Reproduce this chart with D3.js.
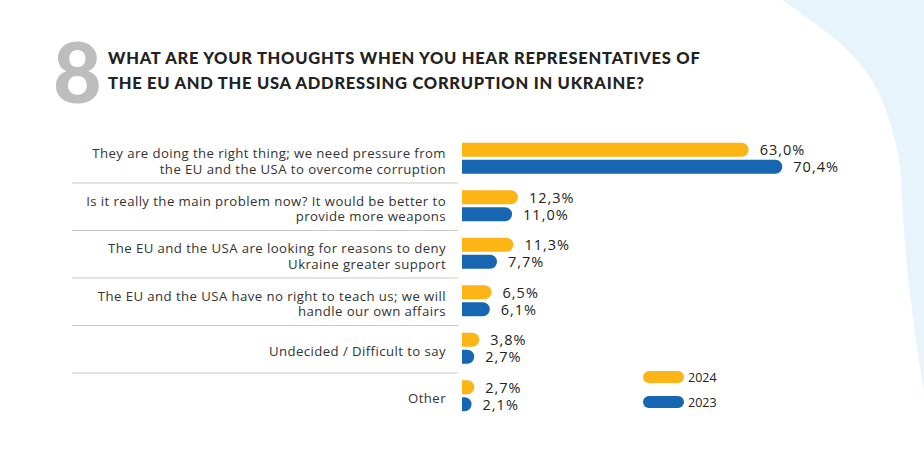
<!DOCTYPE html>
<html>
<head>
<meta charset="utf-8">
<script src="https://cdn.jsdelivr.net/npm/d3@7"></script>
<style>
  html, body { margin: 0; padding: 0; background: #fff; }
  svg { display: block; }
</style>
</head>
<body>
<svg id="chart" width="924" height="455"></svg>
<script>
// ---------- DATA ----------
const categories = [
  "They are doing the right thing; we need pressure from|the EU and the USA to overcome corruption",
  "Is it really the main problem now? It would be better to|provide more weapons",
  "The EU and the USA are looking for reasons to deny|Ukraine greater support",
  "The EU and the USA have no right to teach us; we will|handle our own affairs",
  "Undecided / Difficult to say",
  "Other"
];
const series = ["2024", "2023"];
const values2024 = [63.0, 12.3, 11.3, 6.5, 3.8, 2.7];
const values2023 = [70.4, 11.0, 7.7, 6.1, 2.7, 2.1];
const titleLines = [
  "WHAT ARE YOUR THOUGHTS WHEN YOU HEAR REPRESENTATIVES OF",
  "THE EU AND THE USA ADDRESSING CORRUPTION IN UKRAINE?"
];
const questionNumber = "8";
const colors = { "2024": "#FDB515", "2023": "#1766B2" };

// ---------- SETUP ----------
const svg = d3.select("#chart");
const FONT = "'Open Sans', 'Noto Sans', sans-serif";

// background decoration
const bgPts = [[782,0],[810,20],[840,43],[867,73],[882,100],[893,133],[900,167],[903,217],[907,267],[913,317],[920,367],[924,390]];
const bgLine = d3.line().curve(d3.curveCatmullRom);
svg.append("path")
  .attr("d", bgLine(bgPts) + "L924,0Z")
  .attr("fill", "#E8F4FC");

// title
svg.append("text")
  .attr("x", 53).attr("y", 103)
  .attr("font-family", "Lato, 'Open Sans', sans-serif")
  .attr("font-weight", 900)
  .attr("font-size", 84)
  .attr("fill", "#BDBDBD")
  .text(questionNumber);

svg.append("g").selectAll("text").data(titleLines).join("text")
  .attr("x", 108)
  .attr("y", (d, i) => 58 + i * 25)
  .attr("dominant-baseline", "central")
  .attr("font-family", "Lato, 'Open Sans', sans-serif")
  .attr("font-weight", 900)
  .attr("font-size", 16.5)
  .attr("letter-spacing", 0.75)
  .attr("fill", "#222")
  .text(d => d);

// scales
const y = d3.scaleBand().domain(categories).range([135.5, 420.5]);
const ySub = d3.scaleBand().domain(series).range([0, 31]).paddingInner(3 / 17);
const x = d3.scaleLinear().domain([0, 70.4]).range([462, 462 + 70.4 * 4.55]);

const rows = categories.map((c, i) => ({
  cat: c, i,
  vals: [{ s: "2024", v: values2024[i] }, { s: "2023", v: values2023[i] }]
}));

// separators
svg.append("g").selectAll("line").data(categories.slice(0, -1)).join("line")
  .attr("x1", 72).attr("x2", 458)
  .attr("y1", d => y(d) + y.step()).attr("y2", d => y(d) + y.step())
  .attr("stroke", "#C8C8C8").attr("stroke-width", 1);

// category labels
const labG = svg.append("g");
rows.forEach(r => {
  const lines = r.cat.split("|");
  const cy = y(r.cat) + y.bandwidth() / 2 + 1.5;
  const lh = 15.5;
  lines.forEach((ln, k) => {
    labG.append("text")
      .attr("x", 446)
      .attr("y", cy + (k - (lines.length - 1) / 2) * lh)
      .attr("text-anchor", "end")
      .attr("dominant-baseline", "central")
      .attr("font-family", FONT)
      .attr("font-size", 13.2)
      .attr("letter-spacing", 0.42)
      .attr("fill", "#333")
      .text(ln);
  });
});

// bars
function barPath(x0, y0, w, h) {
  const r = Math.min(h / 2, w);
  return `M${x0},${y0}H${x0 + w - r}A${r},${h / 2} 0 0 1 ${x0 + w},${y0 + h / 2}A${r},${h / 2} 0 0 1 ${x0 + w - r},${y0 + h}H${x0}Z`;
}
const rowG = svg.append("g").selectAll("g").data(rows).join("g")
  .attr("transform", d => `translate(0,${y(d.cat) + y.bandwidth() / 2 - 16.5})`);

rowG.selectAll("path").data(d => d.vals).join("path")
  .attr("d", d => barPath(x(0), ySub(d.s), x(d.v) - x(0), ySub.bandwidth()))
  .attr("fill", d => colors[d.s]);

const fmt = v => d3.format(".1f")(v).replace(".", ",") + "%";
rowG.selectAll("text").data(d => d.vals).join("text")
  .attr("x", d => x(d.v) + 11)
  .attr("y", d => ySub(d.s) + ySub.bandwidth() / 2)
  .attr("dominant-baseline", "central")
  .attr("font-family", FONT)
  .attr("font-size", 14.5)
  .attr("font-weight", 500)
  .attr("letter-spacing", 1)
  .attr("fill", "#222")
  .text(d => fmt(d.v));

// legend
const leg = svg.append("g").selectAll("g").data(series).join("g")
  .attr("transform", (d, i) => `translate(643,${377 + i * 25})`);
leg.append("rect")
  .attr("x", 0).attr("y", -6).attr("width", 41).attr("height", 12)
  .attr("rx", 6).attr("fill", d => colors[d]);
leg.append("text")
  .attr("x", 45).attr("y", 0)
  .attr("dominant-baseline", "central")
  .attr("font-family", FONT)
  .attr("font-size", 12.5)
  .attr("fill", "#222")
  .text(d => d);
</script>
</body>
</html>
